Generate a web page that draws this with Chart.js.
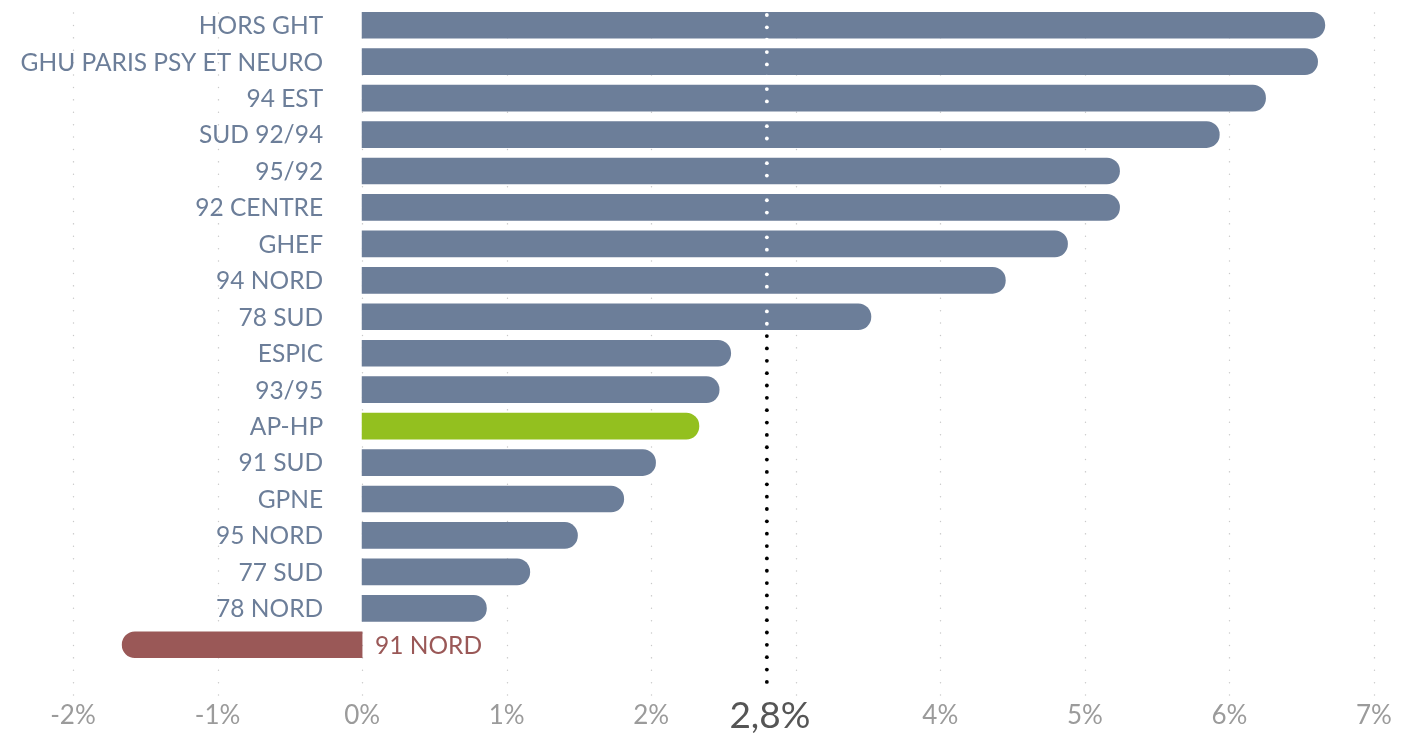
<!DOCTYPE html>
<html>
<head>
<meta charset="utf-8">
<script src="https://cdn.jsdelivr.net/npm/chart.js@4.4.1/dist/chart.umd.min.js"></script>
<style>
  html, body { margin: 0; padding: 0; background: #fff; }
  #wrap { width: 1402px; height: 734px; }
</style>
</head>
<body>
<div id="wrap"><canvas id="chart"></canvas></div>
<script>
/* ─── Data ──────────────────────────────────────────────────────────────── */
const categories = ['HORS GHT', 'GHU PARIS PSY ET NEURO', '94 EST', 'SUD 92/94', '95/92',
  '92 CENTRE', 'GHEF', '94 NORD', '78 SUD', 'ESPIC', '93/95', 'AP-HP', '91 SUD', 'GPNE',
  '95 NORD', '77 SUD', '78 NORD', '91 NORD'];
const values = [6.66, 6.61, 6.25, 5.93, 5.24, 5.24, 4.88, 4.45, 3.52, 2.55, 2.47, 2.33,
  2.03, 1.81, 1.49, 1.16, 0.86, -1.66];
const tickValues = [-2, -1, 0, 1, 2, 3, 4, 5, 6, 7];
const tickLabels = ['-2%', '-1%', '0%', '1%', '2%', '', '4%', '5%', '6%', '7%'];
const refValue = 2.8;
const refLabel = '2,8%';
const highlight = 'AP-HP';

/* ─── Colours ───────────────────────────────────────────────────────────── */
const SLATE = '#6c7e99';
const GREEN = '#93c01f';
const RED   = '#9a5857';
const FONT  = "Lato, 'Noto Sans', sans-serif";

const barColors = values.map((v, i) =>
  v < 0 ? RED : (categories[i] === highlight ? GREEN : SLATE));

/* ─── Plugin: dotted grid, labels next to zero, reference line ──────────── */
const decor = {
  id: 'decor',
  beforeDatasetsDraw(chart) {
    const { ctx, scales: { x } } = chart;
    ctx.save();
    ctx.strokeStyle = '#c9c9c9';
    ctx.lineWidth = 1.4;
    ctx.lineCap = 'round';
    ctx.setLineDash([0.1, 12.3]);
    tickValues.forEach(v => {
      const px = Math.round(x.getPixelForValue(v)) + 0.5;
      ctx.beginPath();
      ctx.moveTo(px, 13);
      ctx.lineTo(px, 698);
      ctx.stroke();
    });
    ctx.restore();
  },
  afterDatasetsDraw(chart) {
    const { ctx, scales: { x } } = chart;
    const meta = chart.getDatasetMeta(0);
    const x0 = x.getPixelForValue(0);

    // category labels
    ctx.save();
    ctx.font = `24.5px ${FONT}`;
    ctx.textBaseline = 'middle';
    meta.data.forEach((bar, i) => {
      if (values[i] >= 0) {
        ctx.textAlign = 'right';
        ctx.fillStyle = SLATE;
        ctx.fillText(categories[i], x0 - 39, bar.y + 1);
      } else {
        ctx.textAlign = 'left';
        ctx.fillStyle = RED;
        ctx.fillText(categories[i], x0 + 13, bar.y + 1);
      }
    });
    ctx.restore();

    // reference line: white over the bars, black below them
    const rx = x.getPixelForValue(refValue);
    let split = 14;
    meta.data.forEach((bar, i) => {
      if (values[i] > refValue) split = bar.y + bar.height / 2;
    });
    ctx.save();
    for (let y = 15; y <= 693; y += 12.35) {
      ctx.fillStyle = y < split ? '#ffffff' : '#000000';
      ctx.beginPath();
      ctx.arc(rx, y, 1.9, 0, Math.PI * 2);
      ctx.fill();
    }
    ctx.fillStyle = '#555555';
    ctx.font = `37px ${FONT}`;
    ctx.textAlign = 'center';
    ctx.textBaseline = 'middle';
    ctx.fillText(refLabel, rx + 3, 716);
    ctx.restore();
  }
};

/* ─── Chart ─────────────────────────────────────────────────────────────── */
new Chart(document.getElementById('chart'), {
  type: 'bar',
  data: {
    labels: categories,
    datasets: [{
      data: values,
      backgroundColor: barColors,
      borderWidth: 0,
      borderRadius: 13,
      borderSkipped: 'start',
      barThickness: 26,
    }],
  },
  options: {
    indexAxis: 'y',
    responsive: true,
    maintainAspectRatio: false,
    animation: false,
    layout: { padding: { left: 73, right: 28, top: 7, bottom: -35 } },
    plugins: { legend: { display: false }, tooltip: { enabled: false } },
    scales: {
      x: {
        min: -2,
        max: 7,
        afterBuildTicks: scale => { scale.ticks = tickValues.map(v => ({ value: v })); },
        grid: { display: false, drawTicks: false },
        border: { display: false },
        ticks: {
          padding: 6,
          color: '#9b9b9b',
          font: { family: FONT, size: 26, lineHeight: 94 / 26 },
          callback: (v) => tickLabels[tickValues.indexOf(v)] ?? '',
        },
      },
      y: {
        display: false,
        offset: true,
      },
    },
  },
  plugins: [decor],
});
</script>
</body>
</html>
